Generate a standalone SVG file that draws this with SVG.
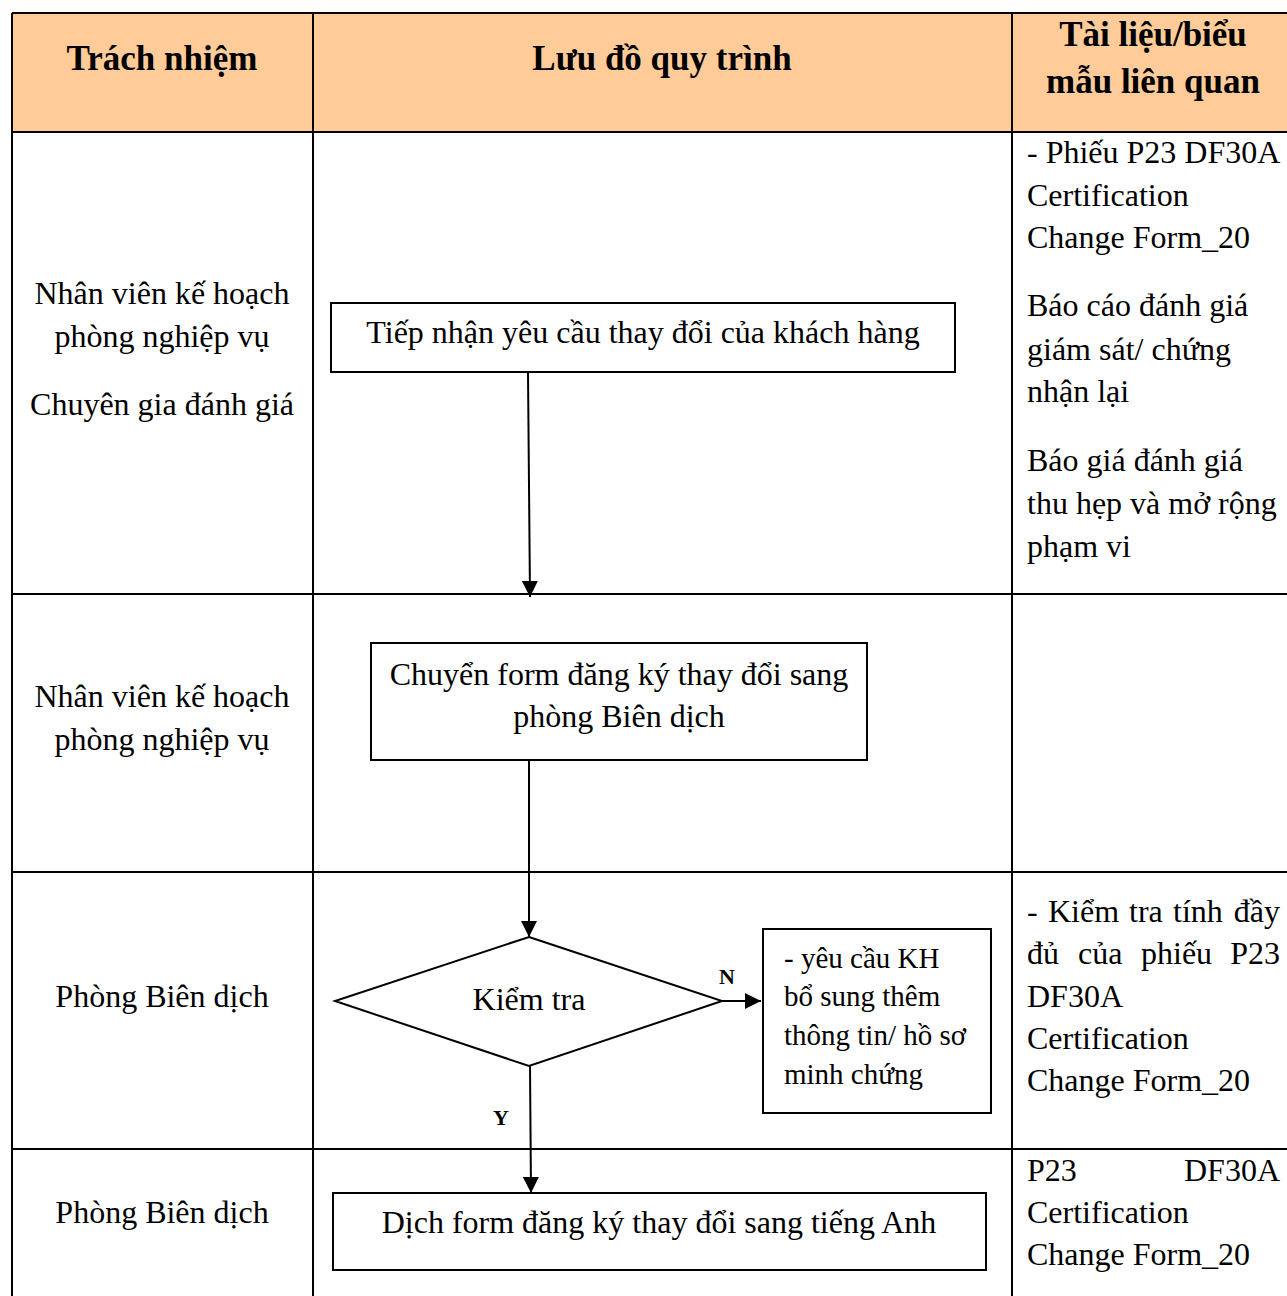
<svg xmlns="http://www.w3.org/2000/svg" width="1287" height="1296" viewBox="0 0 1287 1296">
<style>
.t{font-family:"Liberation Serif","Times New Roman",serif;font-size:32px;fill:#000}
.s{font-size:29px}
.h{font-family:"Liberation Serif","Times New Roman",serif;font-size:35px;font-weight:bold;fill:#000}
.c{text-anchor:middle}
.e{text-anchor:end}
.lbl{font-family:"Liberation Serif","Times New Roman",serif;font-size:22px;font-weight:bold;fill:#000}
.grid{stroke:#000;stroke-width:2;fill:none}
.box{stroke:#000;stroke-width:2;fill:#fff}
.conn{stroke:#000;stroke-width:2;fill:none}
</style>
<defs>
<marker id="ahL" viewBox="0 0 10 10" refX="10" refY="5" markerWidth="16" markerHeight="16" markerUnits="userSpaceOnUse" orient="auto">
<path d="M0,0 L10,5 L0,10 Z" fill="#000"/>
</marker>
</defs>
<rect width="1287" height="1296" fill="#fff"/>
<g id="table">
<rect x="12" y="13" width="1280" height="119" fill="#FFCC99"/>
<line class="grid" x1="12" y1="13" x2="1287" y2="13"/>
<line class="grid" x1="12" y1="132" x2="1287" y2="132"/>
<line class="grid" x1="12" y1="594" x2="1287" y2="594"/>
<line class="grid" x1="12" y1="872" x2="1287" y2="872"/>
<line class="grid" x1="12" y1="1149" x2="1287" y2="1149"/>
<line class="grid" x1="12" y1="13" x2="12" y2="1296"/>
<line class="grid" x1="313" y1="13" x2="313" y2="1296"/>
<line class="grid" x1="1012" y1="13" x2="1012" y2="1296"/>
</g>
<g id="header">
<text class="h c" x="162" y="70">Trách nhiệm</text>
<text class="h c" x="662" y="70">Lưu đồ quy trình</text>
<text class="h c" x="1153" y="46">Tài liệu/biểu</text>
<text class="h c" x="1153" y="93">mẫu liên quan</text>
</g>
<g id="responsibility">
<text class="t c" x="162" y="304">Nhân viên kế hoạch</text>
<text class="t c" x="162" y="347">phòng nghiệp vụ</text>
<text class="t c" x="162" y="415">Chuyên gia đánh giá</text>
<text class="t c" x="162" y="707">Nhân viên kế hoạch</text>
<text class="t c" x="162" y="750">phòng nghiệp vụ</text>
<text class="t c" x="162" y="1007">Phòng Biên dịch</text>
<text class="t c" x="162" y="1223">Phòng Biên dịch</text>
</g>
<g id="documents">
<text class="t" x="1027" y="163">- Phiếu P23 DF30A</text>
<text class="t" x="1027" y="206">Certification</text>
<text class="t" x="1027" y="248">Change Form_20</text>
<text class="t" x="1027" y="316">Báo cáo đánh giá</text>
<text class="t" x="1027" y="360">giám sát/ chứng</text>
<text class="t" x="1027" y="402">nhận lại</text>
<text class="t" x="1027" y="471">Báo giá đánh giá</text>
<text class="t" x="1027" y="514">thu hẹp và mở rộng</text>
<text class="t" x="1027" y="557">phạm vi</text>
<text class="t" x="1027" y="922">-</text>
<text class="t" x="1048" y="922">Kiểm</text>
<text class="t" x="1129" y="922">tra</text>
<text class="t" x="1173" y="922">tính</text>
<text class="t e" x="1280" y="922">đầy</text>
<text class="t" x="1027" y="964">đủ</text>
<text class="t" x="1078" y="964">của</text>
<text class="t" x="1141" y="964">phiếu</text>
<text class="t e" x="1280" y="964">P23</text>
<text class="t" x="1027" y="1007">DF30A</text>
<text class="t" x="1027" y="1049">Certification</text>
<text class="t" x="1027" y="1091">Change Form_20</text>
<text class="t" x="1027" y="1181">P23</text>
<text class="t e" x="1280" y="1181">DF30A</text>
<text class="t" x="1027" y="1223">Certification</text>
<text class="t" x="1027" y="1265">Change Form_20</text>
</g>
<g id="connectors">
<line class="conn" x1="528" y1="373" x2="530" y2="597" marker-end="url(#ahL)"/>
<line class="conn" x1="529" y1="761" x2="529" y2="937" marker-end="url(#ahL)"/>
<line class="conn" x1="722" y1="1001" x2="761" y2="1001" marker-end="url(#ahL)"/>
<line class="conn" x1="530" y1="1066" x2="531" y2="1193" marker-end="url(#ahL)"/>
<text class="lbl" x="719" y="984">N</text>
<text class="lbl" x="493" y="1125">Y</text>
</g>
<g id="n1">
<rect class="box" x="331" y="303" width="624" height="69"/>
<text class="t c" x="643" y="343">Tiếp nhận yêu cầu thay đổi của khách hàng</text>
</g>
<g id="n2">
<rect class="box" x="371" y="643" width="496" height="117"/>
<text class="t c" x="619" y="685">Chuyển form đăng ký thay đổi sang</text>
<text class="t c" x="619" y="727">phòng Biên dịch</text>
</g>
<g id="n3">
<polygon class="box" points="529,937 722,1001 529,1066 335,1001"/>
<text class="t c" x="529" y="1010">Kiểm tra</text>
</g>
<g id="n4">
<rect class="box" x="763" y="929" width="228" height="184"/>
<text class="t s" x="784" y="968">- yêu cầu KH</text>
<text class="t s" x="784" y="1006">bổ sung thêm</text>
<text class="t s" x="784" y="1045">thông tin/ hồ sơ</text>
<text class="t s" x="784" y="1084">minh chứng</text>
</g>
<g id="n5">
<rect class="box" x="333" y="1193" width="653" height="77"/>
<text class="t c" x="659" y="1233">Dịch form đăng ký thay đổi sang tiếng Anh</text>
</g>
</svg>
